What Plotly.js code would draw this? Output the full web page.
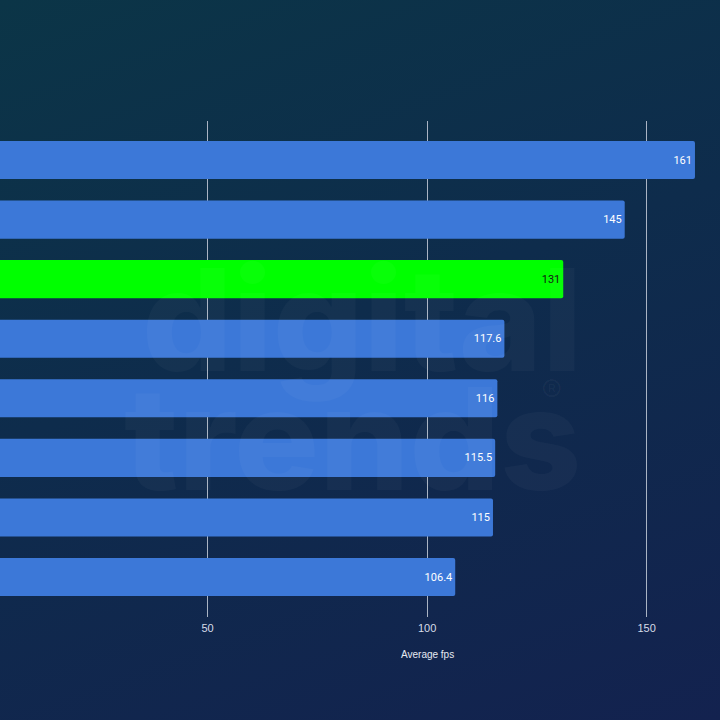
<!DOCTYPE html>
<html>
<head>
<meta charset="utf-8">
<script src="https://cdn.plot.ly/plotly-3.0.1.min.js"></script>
<style>
  html, body { margin:0; padding:0; width:720px; height:720px; overflow:hidden;
    background: linear-gradient(160deg, #0b3547 0%, #0e2c4c 45%, #13224f 100%); }
  #chart { width:720px; height:720px; }
</style>
</head>
<body>
<div id="chart"></div>
<script>
const categories = ["GPU 1", "GPU 2", "GPU 3", "GPU 4", "GPU 5", "GPU 6", "GPU 7", "GPU 8"];
const values = [161, 145, 131, 117.6, 116, 115.5, 115, 106.4];
const labels = ["161", "145", "131", "117.6", "116", "115.5", "115", "106.4"];
const highlight = [false, false, true, false, false, false, false, false];
const tickVals = [50, 100, 150];
const tickText = ["50", "100", "150"];
const axisTitle = "Average fps";

const barColors = highlight.map(h => h ? "#00ff00" : "#3c78d8");
const textColors = highlight.map(h => h ? "#111111" : "#ffffff");

const trace = {
  type: "bar",
  orientation: "h",
  y: categories,
  x: values,
  text: labels,
  textposition: "inside",
  insidetextanchor: "end",
  textangle: 0,
  textfont: { family: "Roboto, sans-serif", size: 11, color: textColors },
  marker: { color: barColors, line: { width: 0 } },
  width: 0.64,
  hoverinfo: "none",
  cliponaxis: true
};

const wm = "rgba(255,255,255,0.032)";
const layout = {
  width: 720, height: 720,
  paper_bgcolor: "rgba(0,0,0,0)",
  plot_bgcolor: "rgba(0,0,0,0)",
  margin: { l: 0, r: 0, t: 121, b: 103 },
  showlegend: false,
  barcornerradius: 2,
  xaxis: {
    range: [2.73, 166.7],
    tickvals: tickVals,
    ticktext: tickText,
    showgrid: true,
    gridcolor: "#aab4c4",
    gridwidth: 1,
    zeroline: false,
    showline: false,
    ticks: "",
    ticklabelstandoff: 3,
    tickfont: { family: "Liberation Sans, Arial, sans-serif", size: 11, color: "#d6dce8" }
  },
  yaxis: {
    type: "category",
    categoryorder: "array",
    categoryarray: categories,
    range: [7.671, -0.655],
    showticklabels: false,
    showgrid: false,
    zeroline: false,
    showline: false,
    ticks: ""
  },
  annotations: [
    { xref: "paper", yref: "paper", x: 0.503, y: 0.60, text: "digital", showarrow: false,
      font: { family: "Inter, sans-serif", size: 142, color: wm, weight: 800 } },
    { xref: "paper", yref: "paper", x: 0.49, y: 0.36, text: "trends", showarrow: false,
      font: { family: "Inter, sans-serif", size: 142, color: wm, weight: 800 } },
    { xref: "paper", yref: "paper", x: 564/720, y: (617-391)/496, text: "®", showarrow: false,
      font: { family: "Inter, sans-serif", size: 32, color: wm } },
    { xref: "paper", yref: "paper", x: 427/720, y: (617-654)/496, text: axisTitle, showarrow: false,
      xanchor: "center", yanchor: "middle",
      font: { family: "Liberation Sans, Arial, sans-serif", size: 10, color: "#e6eaf2" } }
  ]
};

Plotly.newPlot("chart", [trace], layout, { displayModeBar: false, staticPlot: true });
</script>
</body>
</html>
